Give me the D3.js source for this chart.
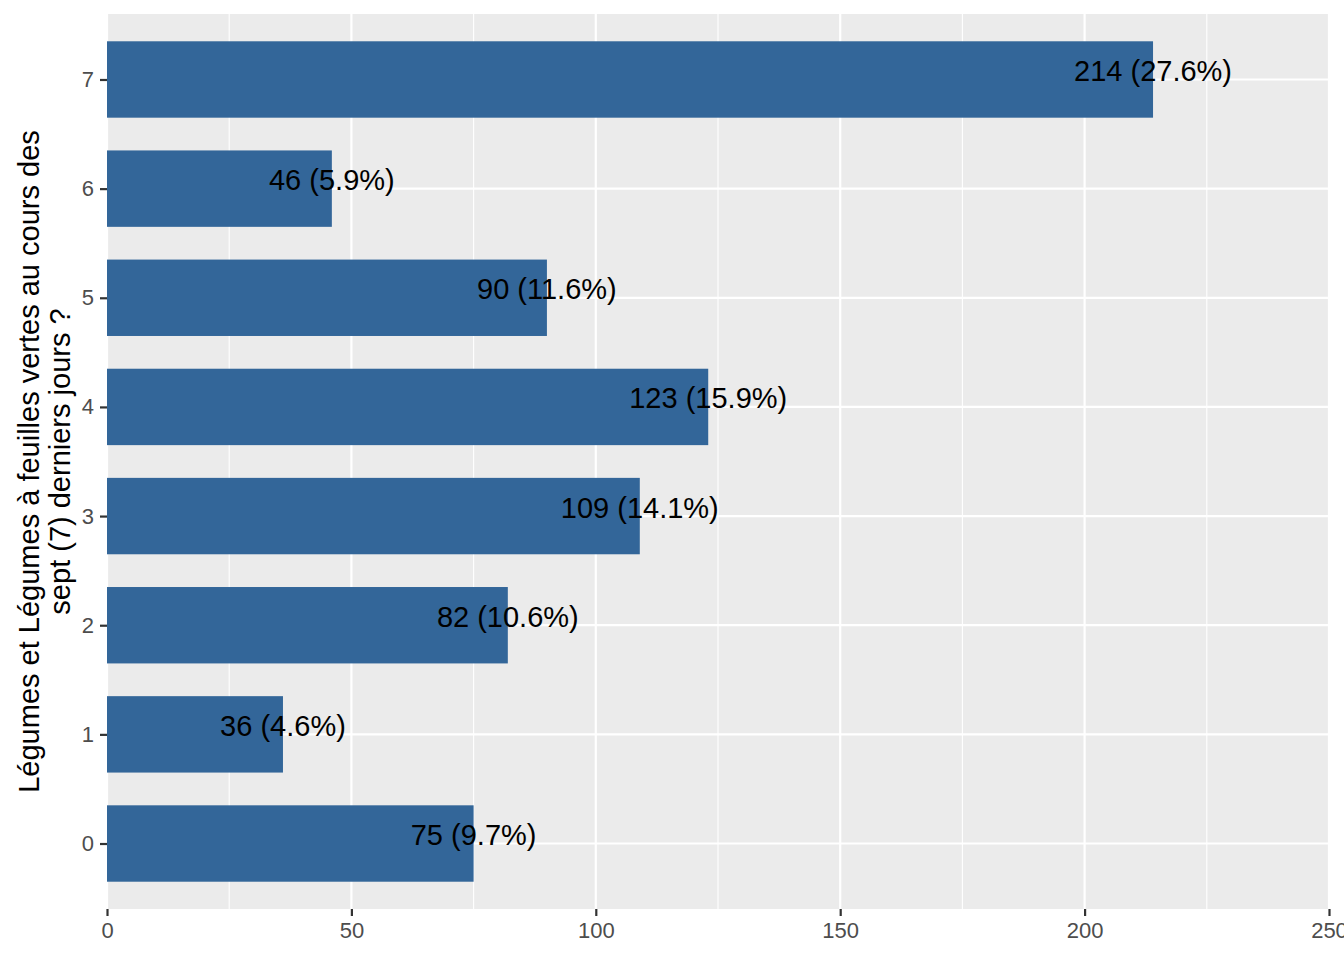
<!DOCTYPE html>
<html>
<head>
<meta charset="utf-8">
<script src="https://cdn.jsdelivr.net/npm/d3@7"></script>
<style>
  body { margin: 0; background: #fff; }
  svg { font-family: "Liberation Sans", Arial, sans-serif; overflow: visible; }
</style>
</head>
<body>
<div id="chart"></div>
<script>
// data
var categories = ["0", "1", "2", "3", "4", "5", "6", "7"];
var counts = [75, 36, 82, 109, 123, 90, 46, 214];
var labels = ["75 (9.7%)", "36 (4.6%)", "82 (10.6%)", "109 (14.1%)", "123 (15.9%)", "90 (11.6%)", "46 (5.9%)", "214 (27.6%)"];
var xTicks = [0, 50, 100, 150, 200, 250];
var xMinor = [25, 75, 125, 175, 225];
var yTitle = ["Légumes et Légumes à feuilles vertes au cours des", "sept (7) derniers jours ?"];

function draw() {
    var w = 1344, h = 960;
    var padLeft = 107, padRight = 1329, padTop = 14, padBottom = 909;

    var svg = d3.select("#chart").append("svg")
        .attr("width", w)
        .attr("height", h);

    var xScale = d3.scaleLinear()
        .domain([0, 250])
        .range([padLeft, padRight]);

    // discrete axis with ggplot-like 0.6 expansion
    var step = (padBottom - padTop) / (categories.length - 1 + 1.2);
    var yScale = d3.scalePoint()
        .domain(categories.slice().reverse())
        .range([padTop + 0.6 * step, padBottom - 0.6 * step]);

    var barH = step * 0.7;

    // panel background
    svg.append("rect")
        .attr("x", padLeft)
        .attr("y", padTop)
        .attr("width", padRight - padLeft)
        .attr("height", padBottom - padTop)
        .attr("fill", "#EBEBEB");

    // minor grid
    svg.selectAll(".minor")
        .data(xMinor)
        .enter()
        .append("line")
        .attr("x1", d => xScale(d))
        .attr("x2", d => xScale(d))
        .attr("y1", padTop)
        .attr("y2", padBottom)
        .attr("stroke", "#fff")
        .attr("stroke-width", 1.1);

    // major grid
    svg.selectAll(".majorx")
        .data(xTicks)
        .enter()
        .append("line")
        .attr("x1", d => xScale(d))
        .attr("x2", d => xScale(d))
        .attr("y1", padTop)
        .attr("y2", padBottom)
        .attr("stroke", "#fff")
        .attr("stroke-width", 2.2);

    svg.selectAll(".majory")
        .data(categories)
        .enter()
        .append("line")
        .attr("x1", padLeft)
        .attr("x2", padRight)
        .attr("y1", d => yScale(d))
        .attr("y2", d => yScale(d))
        .attr("stroke", "#fff")
        .attr("stroke-width", 2.2);

    // bars
    svg.selectAll(".bar")
        .data(counts)
        .enter()
        .append("rect")
        .attr("x", xScale(0))
        .attr("y", (d, i) => yScale(categories[i]) - barH / 2)
        .attr("width", d => xScale(d) - xScale(0))
        .attr("height", barH)
        .attr("fill", "#336699");

    // value labels (sit a little above the bar centre, like the original)
    svg.selectAll(".lbl")
        .data(counts)
        .enter()
        .append("text")
        .attr("x", d => xScale(d))
        .attr("y", (d, i) => yScale(categories[i]) - 9)
        .attr("dy", "0.36em")
        .attr("text-anchor", "middle")
        .attr("font-size", 29)
        .attr("fill", "#000")
        .text((d, i) => labels[i]);

    // axes
    var xAxis = d3.axisBottom(xScale)
        .tickValues(xTicks)
        .tickSize(7)
        .tickPadding(6);

    var yAxis = d3.axisLeft(yScale)
        .tickSize(7)
        .tickPadding(6);

    var gx = svg.append("g")
        .attr("transform", "translate(0," + padBottom + ")")
        .call(xAxis);

    var gy = svg.append("g")
        .attr("transform", "translate(" + padLeft + ",0)")
        .call(yAxis);

    [gx, gy].forEach(function(g) {
        g.attr("font-size", 22).attr("font-family", "Liberation Sans, Arial, sans-serif");
        g.select(".domain").remove();
        g.selectAll(".tick line").attr("stroke", "#333").attr("stroke-width", 2.2);
        g.selectAll(".tick text").attr("fill", "#4D4D4D");
    });

    // y title
    var title = svg.append("text")
        .attr("transform", "translate(39," + ((padTop + padBottom) / 2) + ") rotate(-90)")
        .attr("text-anchor", "middle")
        .attr("font-size", 29)
        .attr("fill", "#000");

    title.selectAll("tspan")
        .data(yTitle)
        .enter()
        .append("tspan")
        .attr("x", 0)
        .attr("dy", (d, i) => i === 0 ? 0 : "1.08em")
        .text(d => d);
}

draw();
</script>
</body>
</html>
